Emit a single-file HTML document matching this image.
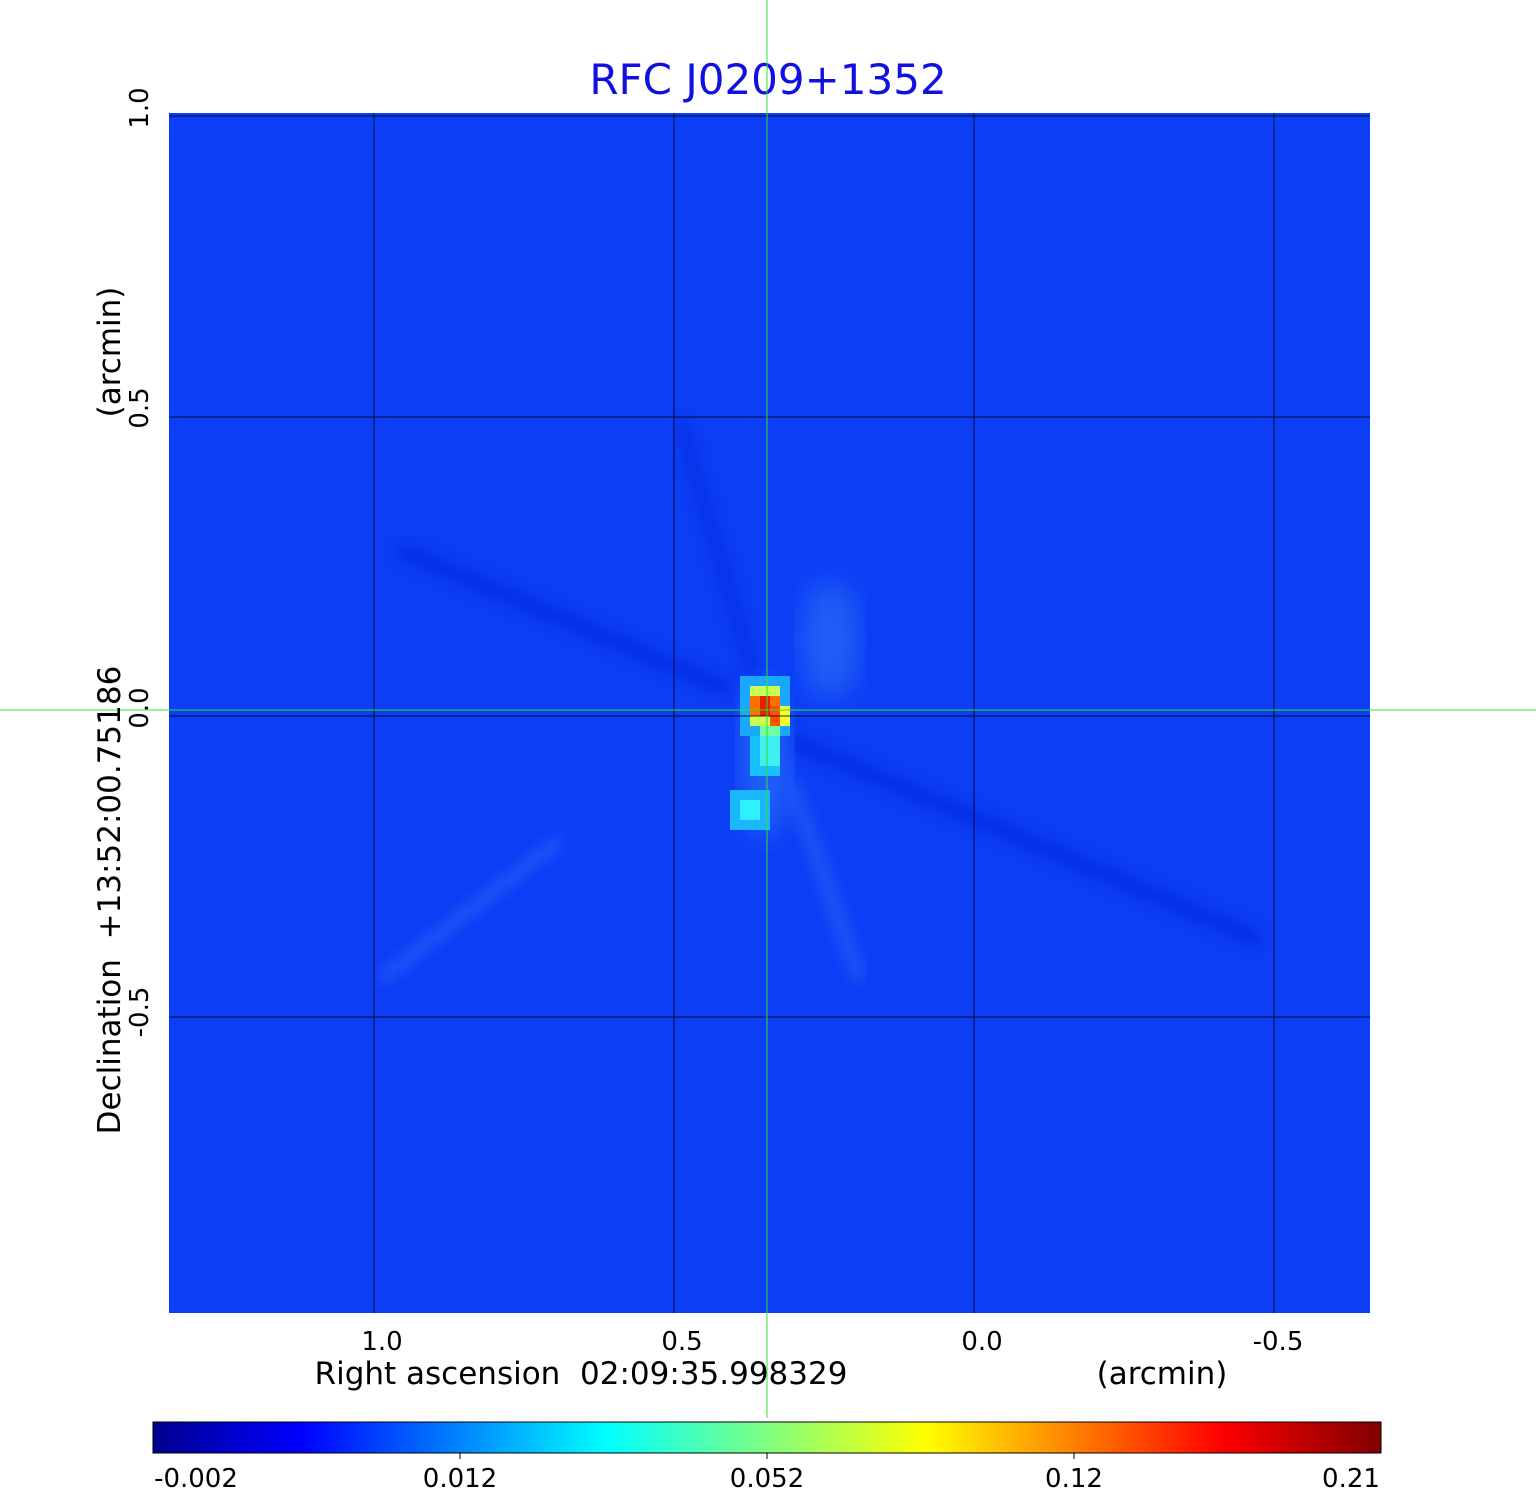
<!DOCTYPE html>
<html><head><meta charset="utf-8"><style>
body{margin:0;background:#fff;}
svg{display:block;font-family:"DejaVu Sans","Liberation Sans",sans-serif;}
</style></head><body>
<svg width="1536" height="1511" viewBox="0 0 1536 1511" xmlns="http://www.w3.org/2000/svg">
<defs>
<linearGradient id="jet" x1="0" x2="1" y1="0" y2="0">
<stop offset="0" stop-color="#00008f"/>
<stop offset="0.12" stop-color="#0000ff"/>
<stop offset="0.37" stop-color="#00ffff"/>
<stop offset="0.5" stop-color="#80ff80"/>
<stop offset="0.63" stop-color="#ffff00"/>
<stop offset="0.87" stop-color="#ff0000"/>
<stop offset="1" stop-color="#800000"/>
</linearGradient>
<filter id="bl"><feGaussianBlur stdDeviation="7"/></filter>
<filter id="bl2"><feGaussianBlur stdDeviation="14"/></filter>
</defs>
<text x="768" y="94" font-size="42" fill="#1010e0" text-anchor="middle">RFC J0209+1352</text>
<rect x="169" y="113" width="1201" height="1200" fill="#0c3ef6"/>
<g opacity="0.7">
<line x1="400" y1="550" x2="730" y2="690" stroke="#0628d8" stroke-width="14" filter="url(#bl)"/>
<line x1="790" y1="740" x2="1260" y2="940" stroke="#0628d8" stroke-width="14" filter="url(#bl)"/>
<line x1="680" y1="420" x2="755" y2="680" stroke="#0628d8" stroke-width="10" filter="url(#bl)"/>
<line x1="380" y1="980" x2="560" y2="840" stroke="#2a64f6" stroke-width="12" filter="url(#bl)"/>
<line x1="790" y1="780" x2="860" y2="980" stroke="#2a64f6" stroke-width="14" filter="url(#bl)"/>
<ellipse cx="830" cy="640" rx="30" ry="60" fill="#2a6cf6" filter="url(#bl2)"/>
<ellipse cx="765" cy="760" rx="25" ry="80" fill="#2a70f6" filter="url(#bl2)"/>
</g>
<g shape-rendering="crispEdges">
<rect x="740" y="676" width="50" height="60" fill="#1aa8ff"/>
<rect x="750" y="736" width="30" height="40" fill="#18c0ff"/>
<rect x="730" y="790" width="40" height="40" fill="#1cb8ff"/>
<rect x="740" y="800" width="20" height="20" fill="#30f0ff"/>
<rect x="750" y="686" width="30" height="40" fill="#c8ff50"/>
<rect x="760" y="726" width="20" height="10" fill="#70ffa0"/>
<rect x="750" y="696" width="30" height="20" fill="#ff7000"/>
<rect x="760" y="696" width="10" height="20" fill="#e02000"/>
<rect x="770" y="706" width="10" height="20" fill="#ff5000"/>
<rect x="780" y="706" width="10" height="20" fill="#f8ff30"/>
<rect x="760" y="736" width="20" height="30" fill="#40f0f0"/>
</g>
<g stroke="#000" stroke-width="1" opacity="0.8">
<line x1="374" y1="113" x2="374" y2="1313"/>
<line x1="674" y1="113" x2="674" y2="1313"/>
<line x1="974" y1="113" x2="974" y2="1313"/>
<line x1="1274" y1="113" x2="1274" y2="1313"/>
<line x1="169" y1="116" x2="1370" y2="116"/>
<line x1="169" y1="417" x2="1370" y2="417"/>
<line x1="169" y1="716" x2="1370" y2="716"/>
<line x1="169" y1="1017" x2="1370" y2="1017"/>
</g>
<line x1="767" y1="0" x2="767" y2="1418" stroke="#30e030" stroke-width="1"/>
<line x1="0" y1="710" x2="1536" y2="710" stroke="#30e030" stroke-width="1"/>
<g font-size="26" fill="#000" text-anchor="middle">
<text x="382" y="1350">1.0</text>
<text x="682" y="1350">0.5</text>
<text x="982" y="1350">0.0</text>
<text x="1278" y="1350">-0.5</text>
<text x="581" y="1384" font-size="31" xml:space="preserve">Right ascension  02:09:35.998329</text>
<text x="1162" y="1384" font-size="31">(arcmin)</text>
<text transform="translate(148,108) rotate(-90)">1.0</text>
<text transform="translate(148,408) rotate(-90)">0.5</text>
<text transform="translate(148,708) rotate(-90)">0.0</text>
<text transform="translate(148,1012) rotate(-90)">-0.5</text>
<text transform="translate(120,900) rotate(-90)" font-size="31" xml:space="preserve">Declination  +13:52:00.75186</text>
<text transform="translate(120,352) rotate(-90)" font-size="31">(arcmin)</text>
</g>
<rect x="153" y="1422" width="1228" height="31" fill="url(#jet)" stroke="#000" stroke-width="1"/>
<g stroke="#000"><line x1="460" y1="1453" x2="460" y2="1459"/><line x1="767" y1="1453" x2="767" y2="1459"/><line x1="1074" y1="1453" x2="1074" y2="1459"/></g>
<g font-size="26" fill="#000" text-anchor="middle">
<text x="196" y="1487">-0.002</text>
<text x="460" y="1487">0.012</text>
<text x="767" y="1487">0.052</text>
<text x="1074" y="1487">0.12</text>
<text x="1351" y="1487">0.21</text>
</g>
</svg>
</body></html>
